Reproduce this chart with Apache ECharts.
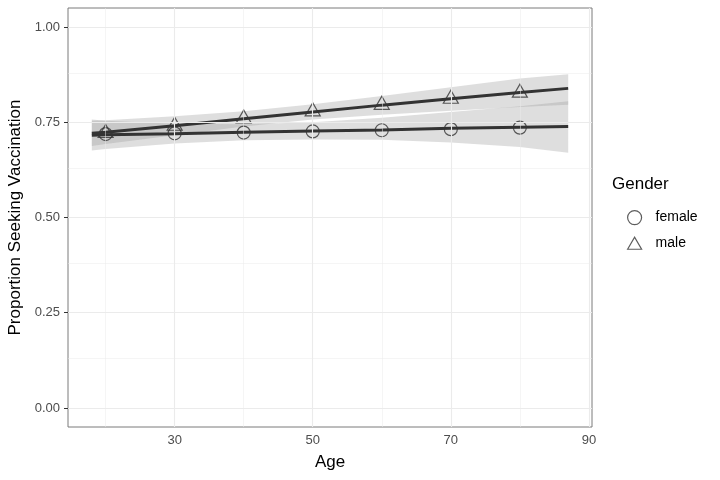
<!DOCTYPE html>
<html>
<head>
<meta charset="utf-8">
<script src="https://cdn.jsdelivr.net/npm/echarts@6/dist/echarts.min.js"></script>
<style>
  body { margin: 0; background: #fff; }
  #chart { width: 720px; height: 480px; }
</style>
</head>
<body>
<div id="chart"></div>
<script>
// ages for fitted curve and ribbon
const ages = [18, 20, 30, 40, 50, 60, 70, 80, 87];
const femaleFit = [0.716, 0.717, 0.720, 0.724, 0.727, 0.730, 0.734, 0.737, 0.739];
const femaleLow = [0.676, 0.680, 0.694, 0.703, 0.705, 0.704, 0.697, 0.685, 0.670];
const femaleHigh = [0.757, 0.754, 0.746, 0.745, 0.750, 0.762, 0.777, 0.792, 0.805];
const maleFit = [0.721, 0.724, 0.741, 0.759, 0.777, 0.795, 0.812, 0.828, 0.839];
const maleLow = [0.688, 0.693, 0.716, 0.739, 0.757, 0.770, 0.780, 0.790, 0.796];
const maleHigh = [0.754, 0.755, 0.766, 0.779, 0.797, 0.819, 0.842, 0.865, 0.876];

// observed points
const pointAges = [20, 30, 40, 50, 60, 70, 80];
const femalePts = [0.719, 0.721, 0.723, 0.726, 0.729, 0.732, 0.736];
const malePts = [0.727, 0.746, 0.765, 0.784, 0.801, 0.817, 0.833];

// ticks
const xTicks = [30, 50, 70, 90];
const xMinor = [20, 40, 60, 80];
const yTicks = [0, 0.25, 0.5, 0.75, 1];
const yMinor = [0.125, 0.375, 0.625, 0.875];

const triangle = 'path://M0,0L1,-1.732L2,0Z';
const ribbonColor = 'rgba(153,153,153,0.32)';

const pair = (xs, ys) => xs.map((x, i) => [x, ys[i]]);

const gridLines = [];
xTicks.forEach(v => gridLines.push({ xAxis: v, lineStyle: { width: 1.1 } }));
xMinor.forEach(v => gridLines.push({ xAxis: v, lineStyle: { width: 0.5 } }));
yTicks.forEach(v => gridLines.push({ yAxis: v, lineStyle: { width: 1.1 } }));
yMinor.forEach(v => gridLines.push({ yAxis: v, lineStyle: { width: 0.5 } }));

// confidence ribbon drawn as one polygon through the axis scales
function ribbon(lo, hi) {
  return {
    type: 'custom',
    z: 1,
    silent: true,
    data: ages.map((x, i) => [x, lo[i], hi[i]]),
    renderItem: function (params, api) {
      if (params.dataIndex !== 0) return;
      const top = ages.map((x, i) => api.coord([x, hi[i]]));
      const bottom = ages.map((x, i) => api.coord([x, lo[i]])).reverse();
      return {
        type: 'polygon',
        shape: { points: top.concat(bottom) },
        style: { fill: ribbonColor }
      };
    }
  };
}

const myChart = echarts.init(document.getElementById('chart'));
const option = {
  animation: false,
  textStyle: { fontFamily: 'Liberation Sans, Arial, sans-serif' },
  title: {
    text: 'Gender',
    left: 612,
    top: 176,
    padding: 0,
    textStyle: { fontSize: 17, fontWeight: 'normal', color: '#000' }
  },
  legend: {
    orient: 'vertical',
    left: 627,
    top: 210,
    padding: 0,
    itemWidth: 14,
    itemHeight: 14,
    itemGap: 11,
    textStyle: { fontSize: 14, color: '#000', padding: [0, 0, 0, 9] },
    data: [
      { name: 'female', icon: 'circle', itemStyle: { color: 'transparent', borderColor: '#333', borderWidth: 1.2 } },
      { name: 'male', icon: triangle, itemStyle: { color: 'transparent', borderColor: '#333', borderWidth: 1.2 } }
    ]
  },
  grid: {
    left: 68,
    right: 128,
    top: 8,
    bottom: 53,
    containLabel: false,
    outerBoundsMode: 'none',
    show: true,
    borderColor: '#7a7a7a',
    borderWidth: 1
  },
  xAxis: {
    type: 'value',
    min: 14.55,
    max: 90.45,
    name: 'Age',
    nameLocation: 'middle',
    nameGap: 27,
    nameTextStyle: { fontSize: 17, color: '#000' },
    axisLine: { show: false },
    axisTick: { show: true, length: 4, customValues: xTicks, lineStyle: { color: '#333' } },
    axisLabel: { customValues: xTicks, fontSize: 13, color: '#4d4d4d', margin: 7 },
    splitLine: { show: false }
  },
  yAxis: {
    type: 'value',
    min: -0.05,
    max: 1.05,
    name: 'Proportion Seeking Vaccination',
    nameLocation: 'middle',
    nameGap: 42,
    nameTextStyle: { fontSize: 17, color: '#000' },
    axisLine: { show: false },
    axisTick: { show: true, length: 4, customValues: yTicks, lineStyle: { color: '#333' } },
    axisLabel: {
      customValues: yTicks,
      fontSize: 13,
      color: '#4d4d4d',
      margin: 8,
      formatter: v => v.toFixed(2)
    },
    splitLine: { show: false }
  },
  series: [
    {
      name: 'grid',
      type: 'line',
      data: [],
      z: 0,
      silent: true,
      markLine: {
        silent: true,
        symbol: 'none',
        label: { show: false },
        lineStyle: { color: '#ebebeb', type: 'solid' },
        data: gridLines
      }
    },
    ribbon(femaleLow, femaleHigh),
    ribbon(maleLow, maleHigh),
    {
      name: 'female',
      type: 'scatter',
      z: 3,
      symbol: 'circle',
      symbolSize: 13,
      itemStyle: { color: 'transparent', borderColor: '#333', borderWidth: 1.2 },
      data: pair(pointAges, femalePts)
    },
    {
      name: 'male',
      type: 'scatter',
      z: 3,
      symbol: triangle,
      symbolSize: [15, 13],
      itemStyle: { color: 'transparent', borderColor: '#333', borderWidth: 1.2 },
      data: pair(pointAges, malePts)
    },
    {
      name: 'femaleFit', type: 'line', z: 4, silent: true,
      symbol: 'none',
      lineStyle: { color: '#333', width: 3 },
      data: pair(ages, femaleFit)
    },
    {
      name: 'maleFit', type: 'line', z: 4, silent: true,
      symbol: 'none',
      lineStyle: { color: '#333', width: 3 },
      data: pair(ages, maleFit)
    }
  ]
};
myChart.setOption(option);
</script>
</body>
</html>
